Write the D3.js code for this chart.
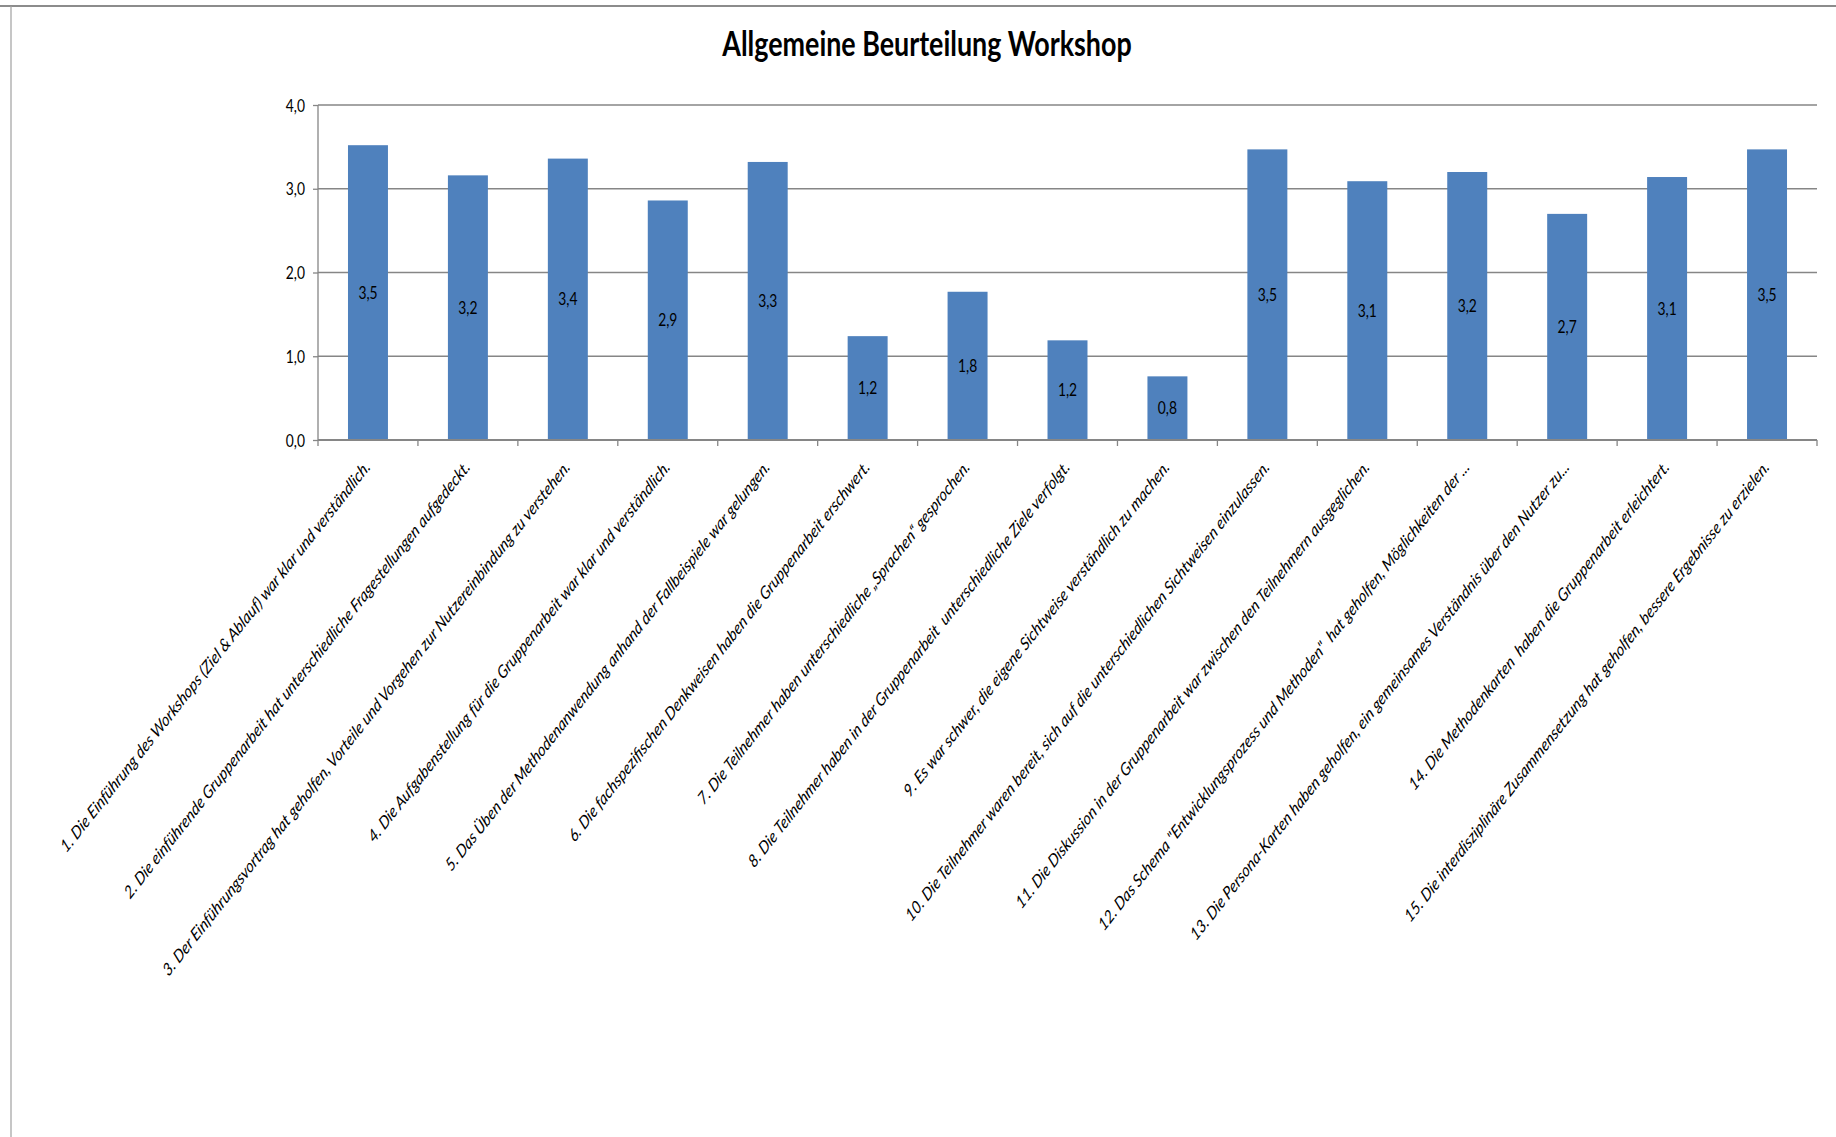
<!DOCTYPE html>
<html>
<head>
<meta charset="utf-8">
<script src="https://cdn.jsdelivr.net/npm/d3@7"></script>
<style>
  html, body { margin: 0; padding: 0; background: #fff; }
  svg { display: block; }
  text { font-family: Lato, "Open Sans", sans-serif; fill: #000; }
  .cat text { white-space: pre; }
</style>
</head>
<body>
<svg id="chart" width="1836" height="1137"></svg>
<script>
// Workshop evaluation: mean rating per statement (scale 0–4)
const categories = [
  "1. Die Einführung des Workshops (Ziel & Ablauf) war klar und verständlich.",
  "2. Die einführende Gruppenarbeit hat unterschiedliche Fragestellungen aufgedeckt.",
  "3. Der Einführungsvortrag hat geholfen, Vorteile und Vorgehen zur Nutzereinbindung zu verstehen.",
  "4. Die Aufgabenstellung für die Gruppenarbeit war klar und verständlich.",
  "5. Das Üben der Methodenanwendung anhand der Fallbeispiele war gelungen.",
  "6. Die fachspezifischen Denkweisen haben die Gruppenarbeit erschwert.",
  "7. Die Teilnehmer haben unterschiedliche „Sprachen“ gesprochen.",
  "8. Die Teilnehmer haben in der Gruppenarbeit  unterschiedliche Ziele verfolgt.",
  "9. Es war schwer, die eigene Sichtweise verständlich zu machen.",
  "10. Die Teilnehmer waren bereit, sich auf die unterschiedlichen Sichtweisen einzulassen.",
  "11. Die Diskussion in der Gruppenarbeit war zwischen den Teilnehmern ausgeglichen.",
  "12. Das Schema \"Entwicklungsprozess und Methoden\"  hat geholfen, Möglichkeiten der ...",
  "13. Die Persona-Karten haben geholfen, ein gemeinsames Verständnis über den Nutzer zu...",
  "14. Die Methodenkarten  haben die Gruppenarbeit erleichtert.",
  "15. Die interdisziplinäre Zusammensetzung hat geholfen, bessere Ergebnisse zu erzielen."
];
const values = [3.52, 3.16, 3.36, 2.86, 3.32, 1.24, 1.77, 1.19, 0.76, 3.47, 3.09, 3.20, 2.70, 3.14, 3.47];
const yTicks = [0, 1, 2, 3, 4];
const title = "Allgemeine Beurteilung Workshop";

// German number formatting (decimal comma)
const de = d3.formatLocale({ decimal: ",", thousands: ".", grouping: [3], currency: ["", " €"] });
const fmt = de.format(".1f");

const SX = 0.79;               // horizontal text squeeze
const svg = d3.select("#chart");
const plot = { left: 318, right: 1817, top: 105, bottom: 440 };

const x = d3.scaleBand()
  .domain(categories)
  .range([plot.left, plot.right])
  .paddingInner(0.6)
  .paddingOuter(0.3);

const y = d3.scaleLinear()
  .domain([0, 4])
  .range([plot.bottom, plot.top]);

// Chart area frame (top and left edges)
svg.append("line").attr("x1", 0).attr("x2", 1836).attr("y1", 6).attr("y2", 6)
  .attr("stroke", "#8c8c8c").attr("stroke-width", 2);
svg.append("line").attr("x1", 11).attr("x2", 11).attr("y1", 6).attr("y2", 1137)
  .attr("stroke", "#a0a0a0").attr("stroke-width", 1.2);

// Title
svg.append("text")
  .attr("transform", `translate(927,56) scale(${SX},1)`)
  .attr("text-anchor", "middle")
  .attr("font-weight", 700)
  .attr("font-size", 34)
  .text(title);

// Value axis with horizontal gridlines
const yAxis = svg.append("g")
  .attr("transform", `translate(${plot.left},0)`)
  .call(d3.axisLeft(y).tickValues(yTicks).tickFormat(fmt).tickSize(5).tickPadding(0));
yAxis.select(".domain").remove();
yAxis.selectAll(".tick line").attr("stroke", "#868686").attr("stroke-width", 1.3);
yAxis.selectAll(".tick text")
  .attr("font-size", 17.5)
  .attr("x", -13 / SX)
  .attr("dy", "0.35em")
  .attr("transform", `scale(${SX},1)`)
  .style("font-family", "Lato, sans-serif");

svg.append("g")
  .selectAll("line")
  .data(yTicks.filter(d => d > 0))
  .join("line")
  .attr("x1", plot.left).attr("x2", plot.right)
  .attr("y1", d => y(d)).attr("y2", d => y(d))
  .attr("stroke", "#868686").attr("stroke-width", 1.3);

// Vertical axis line
svg.append("line")
  .attr("x1", plot.left).attr("x2", plot.left)
  .attr("y1", plot.top).attr("y2", plot.bottom)
  .attr("stroke", "#868686").attr("stroke-width", 1.3);

// Bars
svg.append("g")
  .selectAll("rect")
  .data(values)
  .join("rect")
  .attr("x", (d, i) => x(categories[i]))
  .attr("width", x.bandwidth())
  .attr("y", d => y(d))
  .attr("height", d => y(0) - y(d))
  .attr("fill", "#4f81bd");

// Value labels centred inside the bars
svg.append("g")
  .selectAll("text")
  .data(values)
  .join("text")
  .attr("transform", (d, i) =>
    `translate(${x(categories[i]) + x.bandwidth() / 2},${(y(d) + y(0)) / 2}) scale(${SX},1)`)
  .attr("text-anchor", "middle")
  .attr("dy", "0.35em")
  .attr("font-size", 17.5)
  .text(d => fmt(d));

// Category axis: labels rotated, tick marks between categories
const step = x.step();
const boundaries = categories.map(c => x(c) - step * x.paddingInner() / 2)
  .concat([plot.right]);
boundaries[0] = plot.left;

const xAxis = svg.append("g")
  .attr("class", "cat")
  .attr("transform", `translate(0,${plot.bottom})`)
  .call(d3.axisBottom(x).tickSize(0).tickPadding(0));
xAxis.select(".domain").remove();
xAxis.selectAll(".tick text")
  .attr("x", 0).attr("y", 0).attr("dy", 0)
  .attr("text-anchor", "end")
  .attr("font-size", 17.8)
  .attr("font-style", "italic")
  .attr("transform", `translate(3,28) scale(${SX},1) rotate(-45)`)
  .style("font-family", "Lato, sans-serif");

svg.append("g")
  .selectAll("line")
  .data(boundaries)
  .join("line")
  .attr("x1", d => d).attr("x2", d => d)
  .attr("y1", plot.bottom).attr("y2", plot.bottom + 6)
  .attr("stroke", "#868686").attr("stroke-width", 1.3);

svg.append("line")
  .attr("x1", plot.left).attr("x2", plot.right)
  .attr("y1", plot.bottom).attr("y2", plot.bottom)
  .attr("stroke", "#868686").attr("stroke-width", 2);
</script>
</body>
</html>
